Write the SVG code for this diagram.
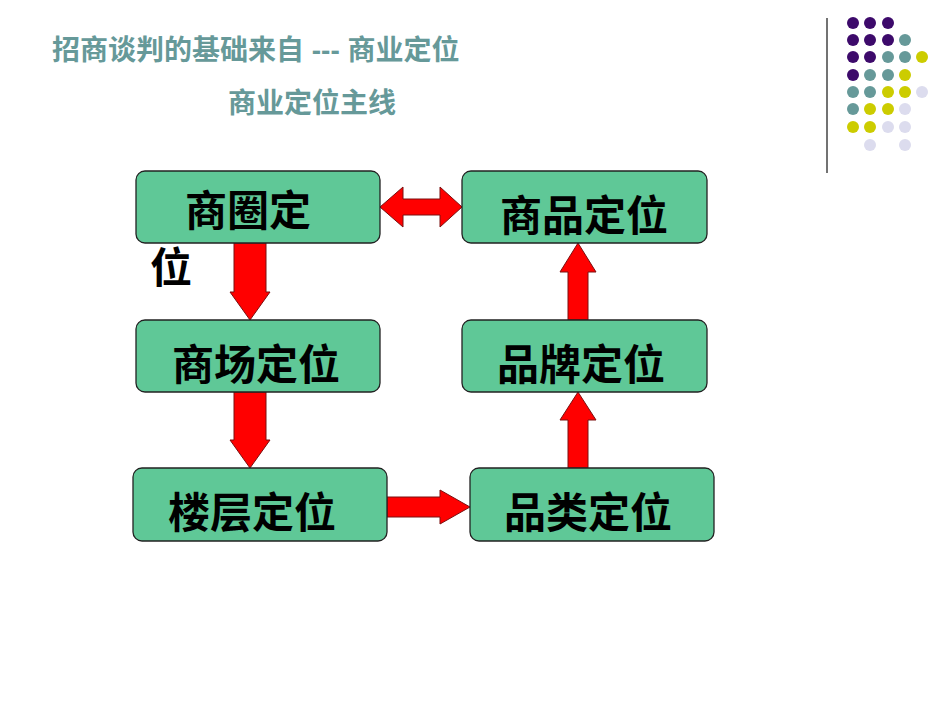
<svg xmlns="http://www.w3.org/2000/svg" width="950" height="713" viewBox="0 0 950 713">
<style>
.t{font-family:"Liberation Sans","Noto Sans CJK SC",sans-serif;font-weight:bold}
.h{fill:#669999;font-size:28px}
.b{fill:#5fc897;stroke:#222;stroke-width:1.3}
.n{font-size:42px;fill:#000}
.a{fill:#ff0000;stroke:#7a1010;stroke-width:1}
.p{fill:#3d0a6b}.q{fill:#669999}.y{fill:#cccc00}.l{fill:#dcdcee}
</style>
<rect width="950" height="713" fill="#fff"/>
<text class="t h" x="52" y="60">招商谈判的基础来自 --- 商业定位</text>
<text class="t h" x="228" y="113">商业定位主线</text>
<line x1="827" y1="18" x2="827" y2="173" stroke="#444" stroke-width="1.5"/>
<g>
<circle class="p" cx="853" cy="23" r="6"/><circle class="p" cx="870" cy="23" r="6"/><circle class="p" cx="888" cy="23" r="6"/>
<circle class="p" cx="853" cy="40" r="6"/><circle class="p" cx="870" cy="40" r="6"/><circle class="p" cx="888" cy="40" r="6"/><circle class="q" cx="905" cy="40" r="6"/>
<circle class="p" cx="853" cy="57" r="6"/><circle class="p" cx="870" cy="57" r="6"/><circle class="q" cx="888" cy="57" r="6"/><circle class="q" cx="905" cy="57" r="6"/><circle class="y" cx="922" cy="57" r="6"/>
<circle class="p" cx="853" cy="75" r="6"/><circle class="q" cx="870" cy="75" r="6"/><circle class="q" cx="888" cy="75" r="6"/><circle class="y" cx="905" cy="75" r="6"/>
<circle class="q" cx="853" cy="92" r="6"/><circle class="q" cx="870" cy="92" r="6"/><circle class="y" cx="888" cy="92" r="6"/><circle class="y" cx="905" cy="92" r="6"/><circle class="l" cx="922" cy="92" r="6"/>
<circle class="q" cx="853" cy="109" r="6"/><circle class="y" cx="870" cy="109" r="6"/><circle class="y" cx="888" cy="109" r="6"/><circle class="l" cx="905" cy="109" r="6"/>
<circle class="y" cx="853" cy="127" r="6"/><circle class="y" cx="870" cy="127" r="6"/><circle class="l" cx="888" cy="127" r="6"/><circle class="l" cx="905" cy="127" r="6"/>
<circle class="l" cx="870" cy="145" r="6"/><circle class="l" cx="905" cy="145" r="6"/>
</g>
<g id="connectors">
<polygon class="a" points="380,207 403,187 403,199 440,199 440,187 462,207 440,227 440,215 403,215 403,227"/>
<polygon class="a" points="234,243 266,243 266,292 270,292 250,320 230,292 234,292"/>
<polygon class="a" points="234,392 266,392 266,440 270,440 250,468 230,440 234,440"/>
<polygon class="a" points="387,497 440,497 440,490 470,507 440,524 440,517 387,517"/>
<polygon class="a" points="568,468 588,468 588,420 596,420 578,392 560,420 568,420"/>
<polygon class="a" points="568,320 588,320 588,272 596,272 578,243 560,272 568,272"/>
</g>
<g id="n1"><rect class="b" x="136" y="171" width="244" height="72" rx="9"/><text class="t n" x="185" y="226">商圈定</text><text class="t n" x="150" y="283">位</text></g>
<g id="n2"><rect class="b" x="462" y="171" width="245" height="72" rx="9"/><text class="t n" x="584" y="231" text-anchor="middle">商品定位</text></g>
<g id="n3"><rect class="b" x="136" y="320" width="244" height="72" rx="9"/><text class="t n" x="256" y="380" text-anchor="middle">商场定位</text></g>
<g id="n4"><rect class="b" x="462" y="320" width="245" height="72" rx="9"/><text class="t n" x="581" y="380" text-anchor="middle">品牌定位</text></g>
<g id="n5"><rect class="b" x="133" y="468" width="254" height="73" rx="9"/><text class="t n" x="252" y="528" text-anchor="middle">楼层定位</text></g>
<g id="n6"><rect class="b" x="470" y="468" width="244" height="73" rx="9"/><text class="t n" x="588" y="528" text-anchor="middle">品类定位</text></g>
</svg>
